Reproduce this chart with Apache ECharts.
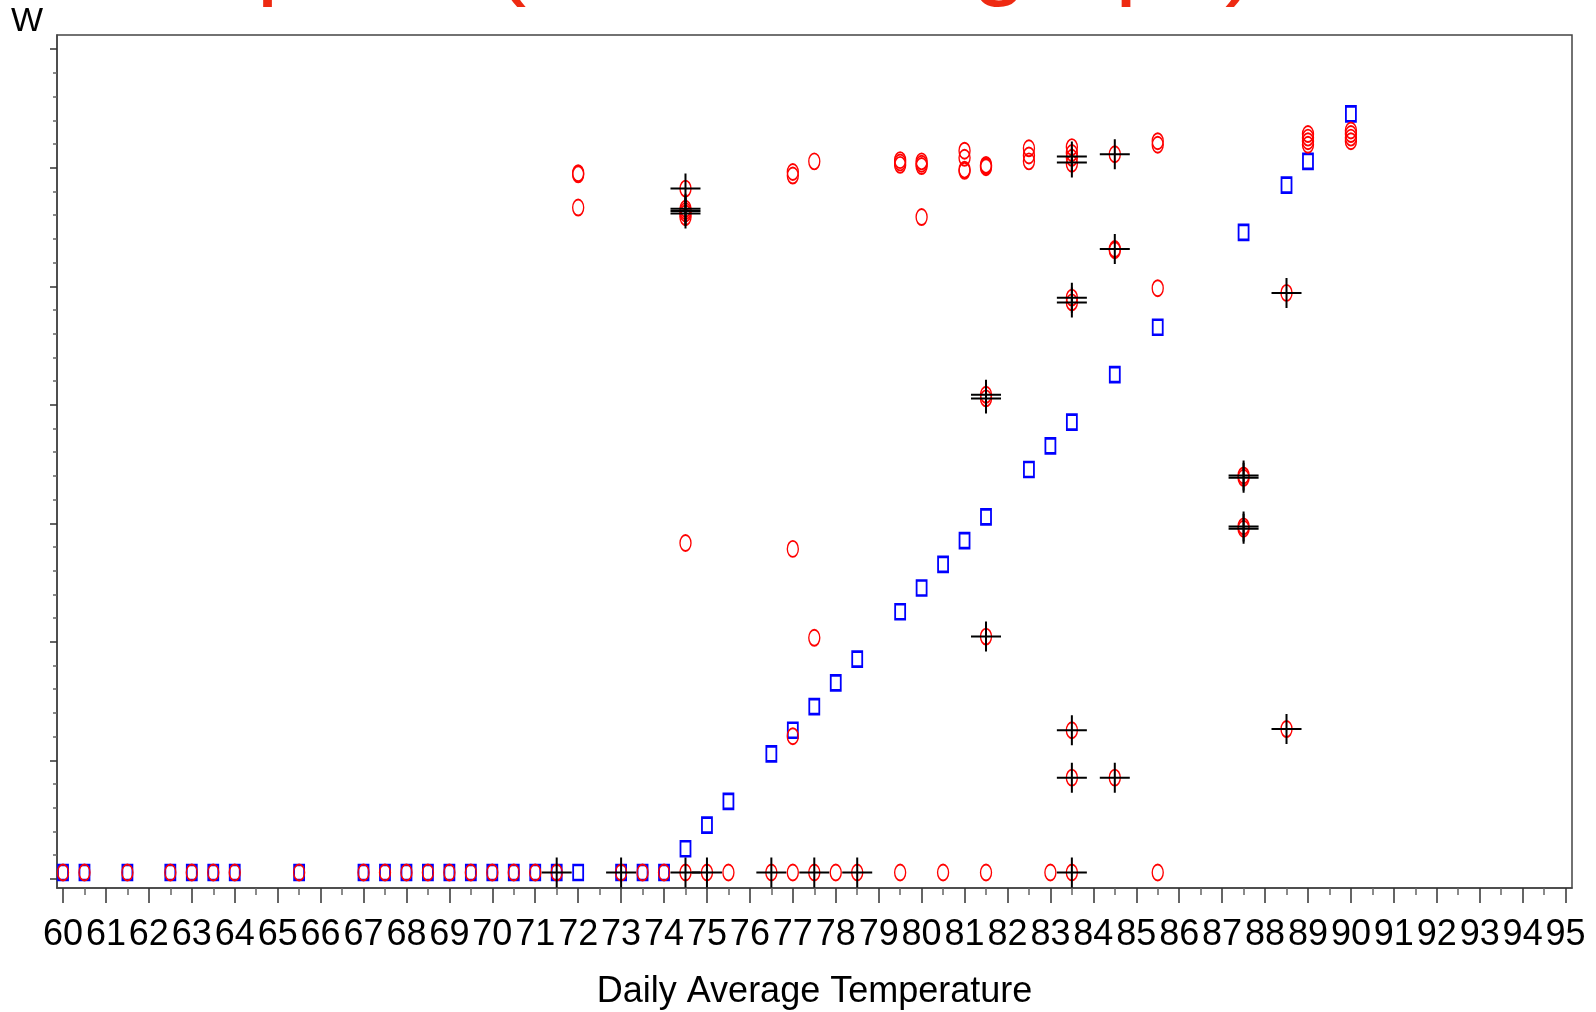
<!DOCTYPE html>
<html>
<head>
<meta charset="utf-8">
<script src="https://cdn.jsdelivr.net/npm/echarts@6/dist/echarts.min.js"></script>
<style>
  html, body { margin: 0; padding: 0; background: #fff; }
  #chart { width: 1596px; height: 1012px; }
</style>
</head>
<body>
<div id="chart"></div>
<script>
// x tick values (integers get labels, halves are minor ticks)
var xMajorTicks = [60, 61, 62, 63, 64, 65, 66, 67, 68, 69, 70, 71, 72, 73, 74, 75, 76, 77,
  78, 79, 80, 81, 82, 83, 84, 85, 86, 87, 88, 89, 90, 91, 92, 93, 94, 95];
var xMinorTicks = [60.5, 61.5, 62.5, 63.5, 64.5, 65.5, 66.5, 67.5, 68.5, 69.5, 70.5, 71.5,
  72.5, 73.5, 74.5, 75.5, 76.5, 77.5, 78.5, 79.5, 80.5, 81.5, 82.5, 83.5, 84.5, 85.5, 86.5,
  87.5, 88.5, 89.5, 90.5, 91.5, 92.5, 93.5, 94.5];
// y ticks (no labels in the original)
var yMajorTicks = [-0.054, 0.946, 1.946, 2.946, 3.946, 4.946, 5.946, 6.946];
var yMinorTicks = [0.146, 0.346, 0.546, 0.746, 1.146, 1.346, 1.546, 1.746, 2.146, 2.346,
  2.546, 2.746, 3.146, 3.346, 3.546, 3.746, 4.146, 4.346, 4.546, 4.746, 5.146, 5.346,
  5.546, 5.746, 6.146, 6.346, 6.546, 6.746];

// blue squares
var squareX = [60, 60.5, 61.5, 62.5, 63, 63.5, 64, 65.5, 67, 67.5, 68, 68.5, 69, 69.5, 70,
  70.5, 71, 71.5, 72, 73, 73.5, 74, 74.5, 75, 75.5, 76.5, 77, 77.5, 78, 78.5, 79.5, 80,
  80.5, 81, 81.5, 82.5, 83, 83.5, 84.5, 85.5, 87.5, 88.5, 89, 90];
var squareY = [0, 0, 0, 0, 0, 0, 0, 0, 0, 0, 0, 0, 0, 0, 0,
  0, 0, 0, 0, 0, 0, 0, 0.2, 0.4, 0.6, 1.0, 1.2, 1.4, 1.6, 1.8, 2.2, 2.4,
  2.6, 2.8, 3.0, 3.4, 3.6, 3.8, 4.2, 4.6, 5.4, 5.8, 6.0, 6.4];

// red circles
var circleX = [60, 60.5, 61.5, 62.5, 63, 63.5, 64, 65.5, 67, 67.5, 68, 68.5, 69, 69.5, 70,
  70.5, 71, 71.5, 73, 73.5, 74, 74.5, 75, 75.5, 76.5, 77, 77.5, 78, 78.5, 79.5, 80.5, 81.5,
  83, 83.5, 85.5,
  72, 72, 72,
  74.5, 74.5, 74.5, 74.5, 74.5, 74.5,
  77, 77, 77, 77,
  77.5, 77.5,
  79.5, 79.5, 79.5,
  80, 80, 80, 80,
  81, 81, 81, 81,
  81.5, 81.5, 81.5, 81.5, 81.5, 81.5,
  82.5, 82.5, 82.5,
  83.5, 83.5, 83.5, 83.5, 83.5, 83.5, 83.5, 83.5,
  84.5, 84.5, 84.5, 84.5,
  85.5, 85.5, 85.5,
  87.5, 87.5, 87.5, 87.5,
  88.5, 88.5,
  89, 89, 89, 89,
  90, 90, 90, 90];
var circleY = [0, 0, 0, 0, 0, 0, 0, 0, 0, 0, 0, 0, 0, 0, 0,
  0, 0, 0, 0, 0, 0, 0, 0, 0, 0, 0, 0, 0, 0, 0, 0, 0,
  0, 0, 0,
  5.90, 5.89, 5.61,
  5.77, 5.60, 5.58, 5.56, 5.53, 2.78,
  5.91, 5.88, 2.73, 1.15,
  6.00, 1.98,
  6.01, 5.99, 5.97,
  6.00, 5.98, 5.96, 5.53,
  6.09, 6.03, 5.93, 5.92,
  5.97, 5.96, 5.95, 4.03, 4.00, 1.99,
  6.11, 6.05, 6.00,
  6.12, 6.07, 6.03, 5.98, 4.85, 4.81, 1.20, 0.80,
  6.06, 5.26, 5.25, 0.80,
  6.17, 6.14, 4.93,
  3.35, 3.33, 2.92, 2.90,
  4.89, 1.21,
  6.23, 6.20, 6.17, 6.14,
  6.26, 6.23, 6.20, 6.17];

// black crosses
var crossX = [71.5, 73, 74.5, 75, 76.5, 77.5, 78.5, 83.5,
  74.5, 74.5, 74.5, 74.5,
  81.5, 81.5, 81.5,
  83.5, 83.5, 83.5, 83.5, 83.5, 83.5,
  84.5, 84.5, 84.5,
  87.5, 87.5, 87.5, 87.5,
  88.5, 88.5];
var crossY = [0, 0, 0, 0, 0, 0, 0, 0,
  5.77, 5.60, 5.58, 5.56,
  4.03, 4.00, 1.99,
  6.04, 5.99, 4.85, 4.81, 1.20, 0.80,
  6.06, 5.26, 0.80,
  3.35, 3.33, 2.92, 2.90,
  4.89, 1.21];

function pairs(xs, ys) {
  var out = [];
  for (var i = 0; i < xs.length; i++) out.push([xs[i], ys[i]]);
  return out;
}

var X_MIN = 59.86, X_MAX = 95.15;
var Y_MIN = -0.131, Y_MAX = 7.066;
var FONT = 'Liberation Sans, Arial, sans-serif';

var myChart = echarts.init(document.getElementById('chart'));
var option = {
  animation: false,
  backgroundColor: '#fff',
  grid: {
    left: 57, right: 24, top: 35, bottom: 124,
    outerBoundsMode: 'none',
    containLabel: false,
    show: true,
    borderColor: '#444',
    borderWidth: 1.5
  },
  graphic: [
    {
      type: 'text', x: 20, y: -40,
      style: {
        text: 'Data plots (with fitted graph)',
        font: '99px ' + FONT,
        fill: '#ee2a12',
        textVerticalAlign: 'middle'
      }
    },
    {
      type: 'text', x: 27, y: 22,
      style: {
        text: 'W',
        font: '34px ' + FONT,
        fill: '#000',
        textAlign: 'center',
        textVerticalAlign: 'middle'
      }
    }
  ],
  xAxis: [
    {
      type: 'value',
      min: X_MIN, max: X_MAX,
      position: 'bottom',
      name: 'Daily Average Temperature',
      nameLocation: 'middle',
      nameGap: 86,
      nameTextStyle: { color: '#000', fontSize: 36, fontFamily: FONT },
      axisLine: { show: true, onZero: false, lineStyle: { color: '#444', width: 1.5 } },
      axisTick: { show: true, length: 15, customValues: xMajorTicks, lineStyle: { color: '#333', width: 1.5 } },
      axisLabel: { show: true, customValues: xMajorTicks, margin: 29, color: '#000', fontSize: 36, fontFamily: FONT },
      splitLine: { show: false }
    },
    {
      type: 'value',
      min: X_MIN, max: X_MAX,
      position: 'bottom',
      axisLine: { show: false, onZero: false },
      axisTick: { show: true, length: 7, customValues: xMinorTicks, lineStyle: { color: '#666', width: 1.5 } },
      axisLabel: { show: false },
      splitLine: { show: false }
    }
  ],
  yAxis: [
    {
      type: 'value',
      min: Y_MIN, max: Y_MAX,
      position: 'left',
      axisLine: { show: true, onZero: false, lineStyle: { color: '#444', width: 1.5 } },
      axisTick: { show: true, length: 7, customValues: yMajorTicks, lineStyle: { color: '#333', width: 1.5 } },
      axisLabel: { show: false },
      splitLine: { show: false }
    },
    {
      type: 'value',
      min: Y_MIN, max: Y_MAX,
      position: 'left',
      axisLine: { show: false, onZero: false },
      axisTick: { show: true, length: 4, customValues: yMinorTicks, lineStyle: { color: '#666', width: 1.5 } },
      axisLabel: { show: false },
      splitLine: { show: false }
    }
  ],
  series: [
    {
      name: 'predicted',
      type: 'scatter',
      data: pairs(squareX, squareY),
      symbol: 'rect',
      symbolSize: [10, 15],
      itemStyle: { color: 'rgba(0,0,0,0)', borderColor: '#0000ff', borderWidth: 2.2, opacity: 1 },
      z: 2
    },
    {
      name: 'observed',
      type: 'scatter',
      data: pairs(circleX, circleY),
      symbol: 'circle',
      symbolSize: [11, 16],
      itemStyle: { color: 'rgba(0,0,0,0)', borderColor: '#ff0000', borderWidth: 1.6, opacity: 1 },
      z: 3
    },
    {
      name: 'cross',
      type: 'scatter',
      data: pairs(crossX, crossY),
      symbol: 'path://M0,15L30,15M15,0L15,30',
      symbolSize: [30, 30],
      itemStyle: { color: 'none', borderColor: '#000', borderWidth: 2, opacity: 1 },
      z: 4
    }
  ]
};
myChart.setOption(option);
</script>
</body>
</html>
